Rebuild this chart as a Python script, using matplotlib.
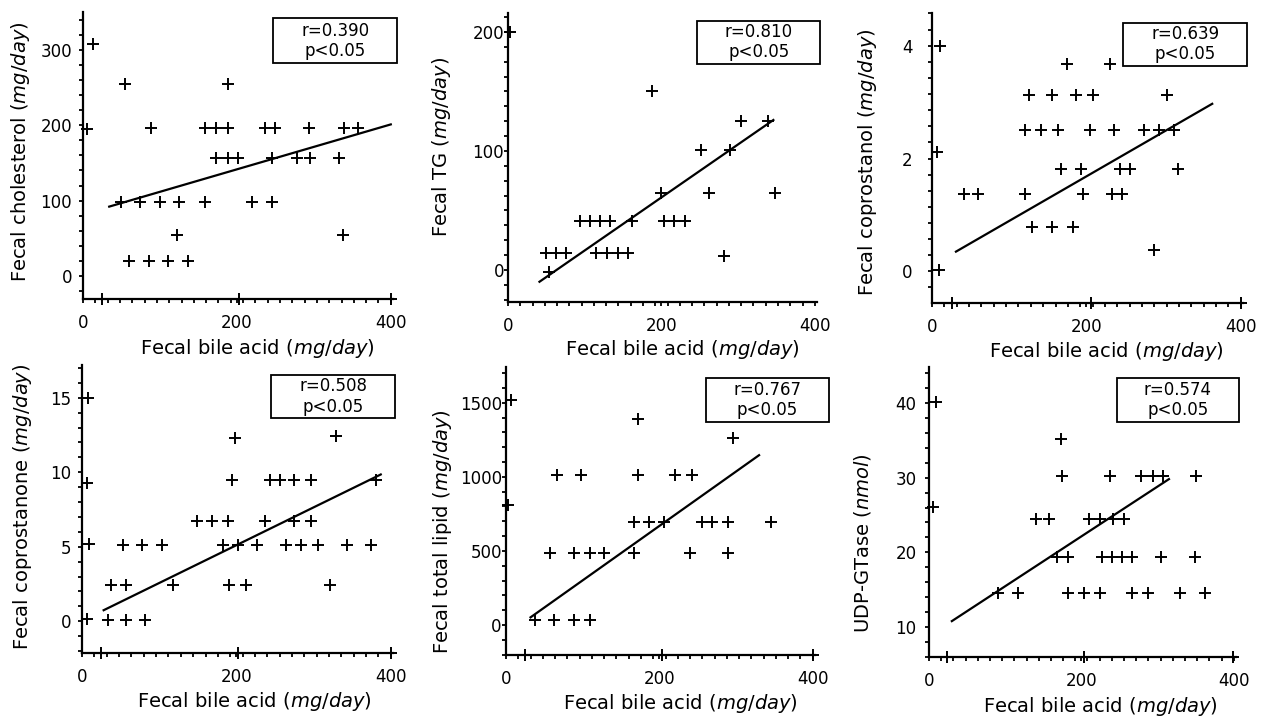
import matplotlib
matplotlib.use("Agg")
import matplotlib.pyplot as plt
from matplotlib.ticker import MultipleLocator
from matplotlib.patches import Rectangle

plt.rcParams['font.family'] = ['DejaVu Sans']
plt.rcParams['mathtext.fontset'] = 'dejavusans'

# fecal bile acid (mg/day) on x for every panel
chol_x = [13, 5, 55, 88, 159, 173, 188, 188, 173, 188, 201, 237, 250, 294, 339, 357,
          245, 278, 295, 333, 49, 74, 100, 125, 158, 220, 245, 122, 338,
          60, 86, 111, 136, 25, 203, 400]
chol_y = [307, 195, 255, 196, 196, 196, 196, 255, 156, 156, 156, 196, 196, 196, 196, 196,
          156, 156, 156, 156, 98, 98, 98, 98, 98, 98, 98, 55, 55,
          20, 20, 20, 20, -30, -30, -30]
chol_fit_x = [34, 400]
chol_fit_y = [92, 201]

tg_x = [2, 188, 304, 339, 252, 290, 200, 262, 348, 94, 107, 120, 133, 161, 204, 217, 231,
        49, 63, 76, 115, 129, 143, 156, 282, 53]
tg_y = [200, 150, 125, 125, 101, 101, 65, 65, 65, 41, 41, 41, 41, 41, 41, 41, 41,
        14, 14, 14, 14, 14, 14, 14, 12, -2]
tg_fit_x = [41, 346]
tg_fit_y = [-10, 126]

nol_x = [10, 7, 9, 175, 231, 126, 155, 187, 208, 305,
         121, 141, 163, 205, 236, 274, 294, 313,
         167, 193, 243, 257, 319, 42, 59, 121, 196, 233, 246,
         129, 155, 182, 288, 26, 206, 400]
nol_y = [3.99, 2.12, 0.03, 3.67, 3.67, 3.12, 3.12, 3.12, 3.12, 3.12,
         2.51, 2.51, 2.51, 2.51, 2.51, 2.51, 2.51, 2.51,
         1.81, 1.81, 1.81, 1.81, 1.81, 1.37, 1.37, 1.37, 1.37, 1.37, 1.37,
         0.79, 0.79, 0.79, 0.38, -0.56, -0.56, -0.56]
nol_fit_x = [31, 363]
nol_fit_y = [0.35, 2.97]

none_x = [8, 6, 9, 7, 198, 329, 194, 243, 256, 275, 296, 381,
          149, 169, 189, 237, 275, 296,
          53, 78, 103, 182, 202, 227, 264, 284, 306, 343, 374,
          37, 57, 118, 190, 212, 321, 33, 57, 82, 24, 202, 400]
none_y = [15, 9.3, 5.2, 0.16, 12.3, 12.4, 9.45, 9.45, 9.45, 9.45, 9.45, 9.45,
          6.72, 6.72, 6.72, 6.72, 6.72, 6.72,
          5.15, 5.15, 5.15, 5.15, 5.15, 5.15, 5.15, 5.15, 5.15, 5.15, 5.15,
          2.42, 2.42, 2.42, 2.42, 2.42, 2.42, 0.11, 0.11, 0.11, -2.1, -2.1, -2.1]
none_fit_x = [28, 387]
none_fit_y = [0.74, 9.85]

lip_x = [6, 3, 172, 296, 66, 98, 172, 221, 243, 167, 186, 206, 255, 268, 290, 345,
         57, 88, 109, 128, 167, 240, 290, 38, 63, 88, 109, 25, 204, 400]
lip_y = [1516, 809, 1393, 1265, 1011, 1011, 1011, 1011, 1011, 692, 692, 692, 692, 692, 692, 692,
         483, 483, 483, 483, 483, 483, 483, 35, 35, 35, 35, -200, -200, -200]
lip_fit_x = [32, 330]
lip_fit_y = [52, 1146]

udp_x = [9, 5, 173, 175, 237, 278, 294, 307, 350, 140, 158, 210, 224, 242, 256,
         168, 183, 227, 240, 254, 267, 304, 349,
         90, 117, 183, 204, 224, 266, 287, 329, 362, 24, 204, 399]
udp_y = [40.1, 26.05, 35.1, 30.15, 30.15, 30.15, 30.15, 30.15, 30.15,
         24.5, 24.5, 24.5, 24.5, 24.5, 24.5,
         19.4, 19.4, 19.4, 19.4, 19.4, 19.4, 19.4, 19.4,
         14.6, 14.6, 14.6, 14.6, 14.6, 14.6, 14.6, 14.6, 14.6, 6, 6, 6]
udp_fit_x = [30, 315]
udp_fit_y = [10.8, 29.8]

r_values = ['0.390', '0.810', '0.639', '0.508', '0.767', '0.574']
y_names = ['Fecal cholesterol', 'Fecal TG', 'Fecal coprostanol',
           'Fecal coprostanone', 'Fecal total lipid', 'UDP-GTase']
y_units = ['(mg/day)', '(mg/day)', '(mg/day)', '(mg/day)', '(mg/day)', '(nmol)']
y_ticks = [[0, 100, 200, 300], [0, 100, 200], [0, 2, 4],
           [0, 5, 10, 15], [0, 500, 1000, 1500], [10, 20, 30, 40]]
x_ticks = [0, 200, 400]

panels = [
    # data, fit, axes rect, ylim, minor step, ylabel pos, xlabel pos, box rect, y tick pad
    (chol_x, chol_y, chol_fit_x, chol_fit_y, [0.0656, 0.5847, 0.2449, 0.3986], (-30.5, 350), 20,
     (-0.203, 0.512), (0.561, -0.171), (0.613, 0.822, 0.400, 0.157), 5.0),
    (tg_x, tg_y, tg_fit_x, tg_fit_y, [0.4013, 0.5806, 0.2441, 0.4014], (-27, 216), 12.5,
     (-0.214, 0.536), (0.563, -0.166), (0.612, 0.824, 0.398, 0.148), 0.0),
    (nol_x, nol_y, nol_fit_x, nol_fit_y, [0.7362, 0.5792, 0.2457, 0.4028], (-0.56, 4.58), 2 / 7,
     (-0.206, 0.486), (0.560, -0.166), (0.614, 0.817, 0.399, 0.149), 11.0),
    (none_x, none_y, none_fit_x, none_fit_y, [0.0648, 0.0931, 0.2457, 0.4], (-2.13, 17.2), 1,
     (-0.193, 0.507), (0.553, -0.170), (0.608, 0.816, 0.398, 0.149), 4.5),
    (lip_x, lip_y, lip_fit_x, lip_fit_y, [0.3997, 0.0903, 0.2441, 0.4], (-202, 1741), 100,
     (-0.207, 0.427), (0.563, -0.167), (0.647, 0.809, 0.398, 0.153), 0.0),
    (udp_x, udp_y, udp_fit_x, udp_fit_y, [0.7338, 0.0875, 0.2425, 0.4028], (6.0, 44.8), 2,
     (-0.215, 0.393), (0.557, -0.172), (0.612, 0.810, 0.398, 0.152), 6.0),
]

fig = plt.figure(figsize=(12.66, 7.2), dpi=100)

for i, (xs, ys, fx, fy, rect, ylim, ystep, ylab, xlab, box, ypad) in enumerate(panels):
    ax = fig.add_axes(rect)
    ax.plot(xs, ys, linestyle='none', marker='+', color='black',
            markersize=8, markeredgewidth=1.4, clip_on=False)
    ax.plot(fx, fy, color='black', linewidth=1.6)

    ax.set_xlim(0, 403)
    ax.set_ylim(*ylim)
    ax.set_xticks(x_ticks)
    ax.set_yticks(y_ticks[i])
    ax.xaxis.set_minor_locator(MultipleLocator(16))
    ax.yaxis.set_minor_locator(MultipleLocator(ystep))

    for side in ['top', 'right']:
        ax.spines[side].set_visible(False)
    for side in ['left', 'bottom']:
        ax.spines[side].set_linewidth(1.6)

    ax.tick_params(axis='both', which='both', direction='out', width=1.3, length=3, labelsize=12)
    ax.tick_params(axis='x', which='major', pad=8)
    ax.tick_params(axis='y', which='major', pad=ypad)

    ax.set_xlabel(r'Fecal bile acid $\mathit{(mg/day)}$', fontsize=14)
    ax.xaxis.set_label_coords(*xlab)
    ax.xaxis.label.set_verticalalignment('center')
    ax.set_ylabel(y_names[i] + r' $\mathit{' + y_units[i] + '}$', fontsize=14)
    ax.yaxis.set_label_coords(*ylab)
    ax.yaxis.label.set_verticalalignment('center')

    bx, by, bw, bh = box
    ax.add_patch(Rectangle((bx, by), bw, bh, transform=ax.transAxes, fill=False,
                           edgecolor='black', linewidth=1.3, clip_on=False))
    ax.text(bx + bw / 2, by + bh / 2, 'r=' + r_values[i] + '\np<0.05', transform=ax.transAxes,
            ha='center', va='center', fontsize=12, linespacing=1.15)

fig.savefig('out.png', dpi=100)
